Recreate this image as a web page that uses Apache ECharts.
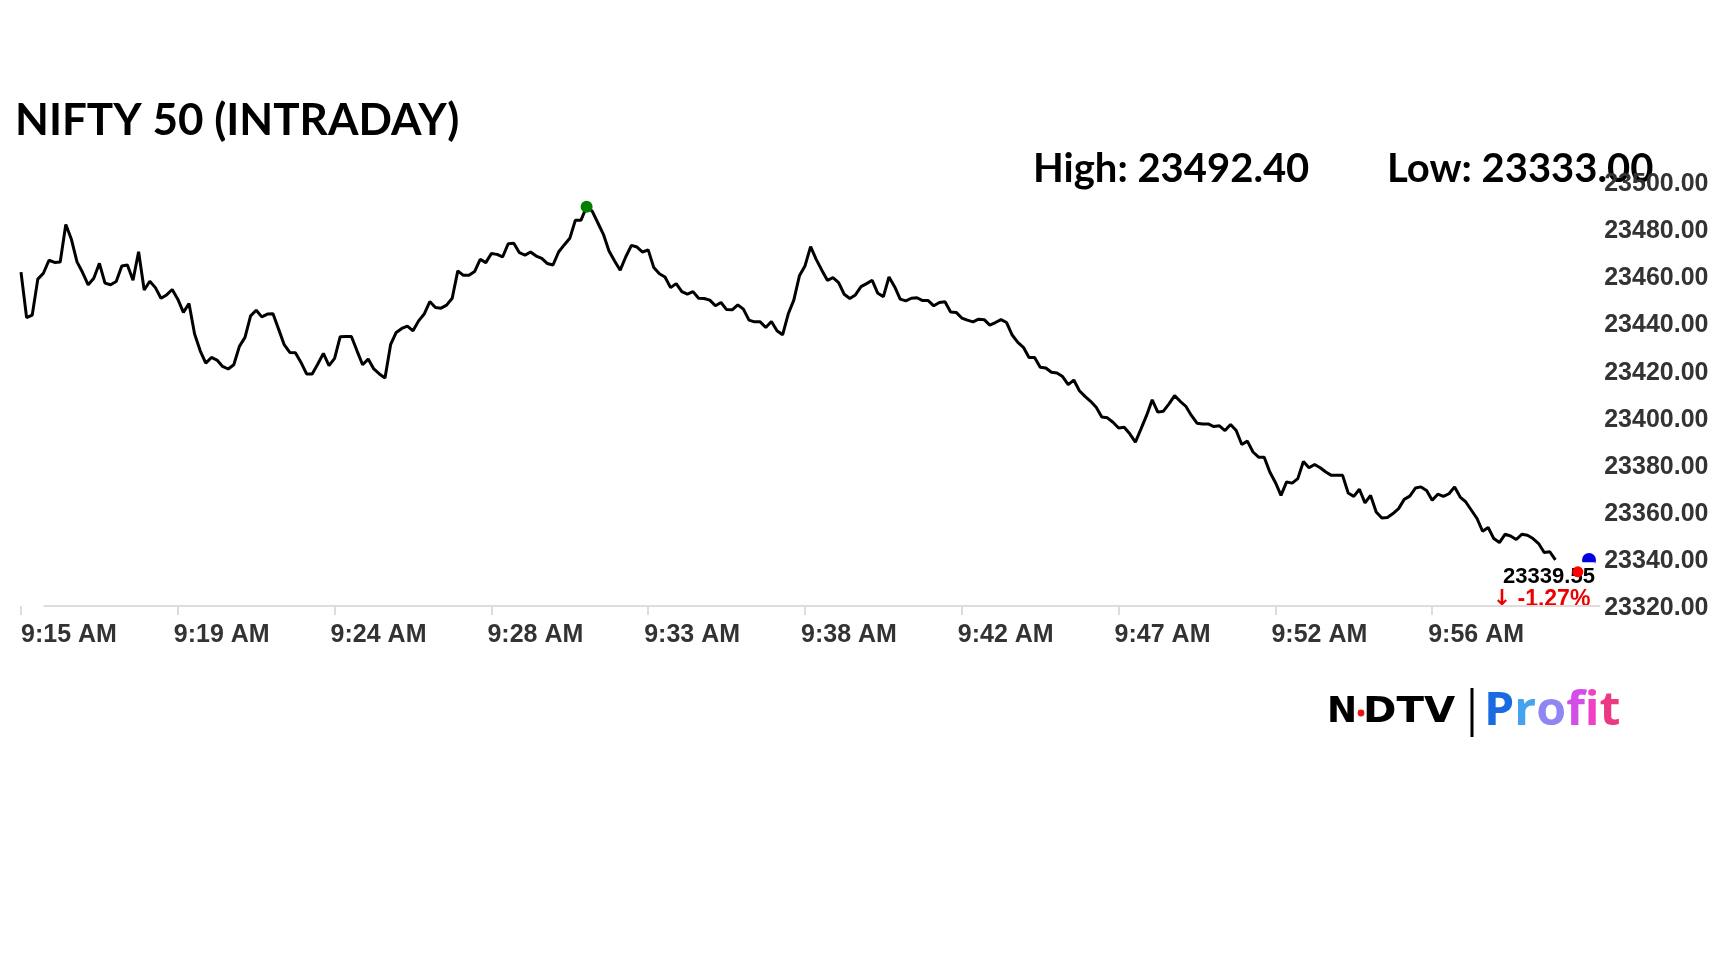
<!DOCTYPE html>
<html>
<head>
<meta charset="utf-8">
<title>NIFTY 50 (INTRADAY)</title>
<script src="https://cdn.jsdelivr.net/npm/echarts@6.0.0/dist/echarts.min.js"></script>
<style>
  html, body { margin: 0; padding: 0; background: #fff; }
  #main { width: 1728px; height: 972px; }
</style>
</head>
<body>
<div id="main"></div>
<script>
// tick labels, one every 28 points
const tickLabels = ['9:15 AM', '9:19 AM', '9:24 AM', '9:28 AM', '9:33 AM', '9:38 AM', '9:42 AM', '9:47 AM', '9:52 AM', '9:56 AM'];
const perTick = 28;
// slots on the x axis (axis runs a little past the last price)
const slots = Array.from({ length: 283 }, (_, i) => i);

// price values
const prices = [
  23461.6, 23442.3, 23443.3, 23458.6, 23461.1, 23466.6, 23465.7, 23465.9, 23481.8, 23475.5,
  23465.9, 23461.4, 23456.2, 23459.0, 23465.3, 23456.9, 23456.2, 23457.6, 23464.2, 23464.6,
  23458.1, 23470.2, 23454.0, 23457.7, 23455.0, 23450.5, 23451.9, 23454.2, 23450.1, 23444.5,
  23448.3, 23435.3, 23428.2, 23423.0, 23425.4, 23424.3, 23421.6, 23420.5, 23422.3, 23430.1,
  23433.9, 23443.0, 23445.4, 23442.6, 23443.8, 23443.9, 23437.4, 23430.8, 23427.5, 23427.4,
  23423.3, 23418.4, 23418.4, 23422.6, 23427.1, 23421.9, 23425.0, 23434.2, 23434.3, 23434.3,
  23428.2, 23422.3, 23424.7, 23420.5, 23418.4, 23416.7, 23430.8, 23436.0, 23437.7, 23438.7,
  23436.7, 23440.9, 23443.8, 23449.1, 23446.6, 23446.3, 23447.6, 23450.5, 23462.1, 23460.2,
  23460.2, 23461.8, 23467.0, 23465.6, 23469.5, 23469.1, 23468.0, 23473.6, 23473.8, 23469.8,
  23468.8, 23470.1, 23468.4, 23467.4, 23465.2, 23464.6, 23470.1, 23473.1, 23475.9, 23483.6,
  23483.6, 23489.3, 23487.4, 23482.5, 23477.6, 23470.5, 23466.3, 23462.4, 23468.1, 23472.9,
  23472.2, 23470.1, 23471.0, 23463.5, 23460.9, 23459.5, 23455.0, 23456.7, 23453.3, 23452.2,
  23453.3, 23450.5, 23450.4, 23449.7, 23447.3, 23448.7, 23445.7, 23445.6, 23447.7, 23445.9,
  23441.2, 23440.5, 23440.5, 23438.1, 23440.6, 23436.7, 23435.0, 23443.8, 23449.7, 23460.0,
  23464.2, 23472.4, 23467.0, 23462.4, 23458.1, 23459.2, 23457.1, 23452.2, 23450.4, 23451.9,
  23455.4, 23456.7, 23458.1, 23452.6, 23451.2, 23459.5, 23455.4, 23450.1, 23449.4, 23450.5,
  23450.7, 23449.5, 23449.5, 23447.3, 23448.7, 23449.0, 23444.7, 23444.5, 23442.1, 23441.2,
  23440.5, 23441.6, 23441.4, 23439.1, 23440.2, 23441.4, 23440.2, 23434.9, 23431.8, 23429.7,
  23425.4, 23425.4, 23421.2, 23420.9, 23419.1, 23418.8, 23417.3, 23413.9, 23415.8, 23411.3,
  23408.9, 23406.8, 23404.3, 23400.1, 23399.8, 23397.9, 23395.5, 23395.8, 23393.0, 23389.5,
  23395.1, 23400.8, 23407.4, 23402.2, 23402.6, 23405.7, 23409.2, 23406.8, 23404.7, 23400.8,
  23397.5, 23397.2, 23397.2, 23396.1, 23396.4, 23394.4, 23397.0, 23394.4, 23388.5, 23389.9,
  23385.3, 23383.1, 23383.1, 23376.8, 23372.4, 23366.9, 23372.6, 23372.1, 23374.0, 23381.3,
  23378.6, 23380.0, 23378.6, 23376.8, 23375.4, 23375.4, 23375.4, 23367.9, 23366.5, 23369.5,
  23363.7, 23366.9, 23359.9, 23357.3, 23357.5, 23359.2, 23361.3, 23365.2, 23366.6, 23370.0,
  23370.5, 23369.0, 23364.8, 23367.4, 23366.5, 23367.6, 23370.5, 23366.2, 23364.1, 23360.6,
  23357.1, 23351.7, 23353.3, 23348.6, 23346.9, 23350.4, 23349.7, 23348.2, 23350.4, 23350.0,
  23348.6, 23346.5, 23342.7, 23343.0, 23339.55
];

const highText = 'High: 23492.40';
const lowText = 'Low: 23333.00';
const changeText = '-1.27%';
// markers: low point and last price sit past the end of the line
const lowPoint = [278, 23334.5];
const lastPoint = [280, prices[prices.length - 1]];

let highIdx = 0;
prices.forEach((v, i) => { if (v > prices[highIdx]) highIdx = i; });

const axisFont = 'Liberation Sans, Arial, sans-serif';
const showTick = (i) => i % perTick === 0 && i / perTick < tickLabels.length;
// labels sit a few px left of their tick, so hang them on the slot before it
const showLabel = (i) => i === 0 || ((i + 1) % perTick === 0 && (i + 1) / perTick < tickLabels.length);
const labelStyle = { fontFamily: axisFont, fontWeight: 'bold', fontSize: 25, color: '#333' };

const chart = echarts.init(document.getElementById('main'));

chart.setOption({
  backgroundColor: '#fff',
  animation: false,
  grid: {
    left: 21,
    right: 127.8,
    top: 181.5,
    bottom: 366,
    containLabel: false,
    outerBoundsMode: 'none'
  },
  xAxis: {
    type: 'category',
    boundaryGap: false,
    data: slots,
    axisLine: { show: false },
    axisTick: {
      show: true,
      interval: showTick,
      length: 9,
      lineStyle: { color: '#dddddd', width: 2 }
    },
    axisLabel: {
      interval: showLabel,
      formatter: (val, idx) => idx === 0
        ? '{a|' + tickLabels[0] + '}'
        : '{b|' + tickLabels[(idx + 1) / perTick] + '}',
      align: 'left',
      margin: 17,
      rich: {
        a: labelStyle,
        b: Object.assign({ padding: [0, 0, 0, 1.6] }, labelStyle)
      }
    },
    splitLine: { show: false }
  },
  yAxis: {
    type: 'value',
    position: 'right',
    min: 23320,
    max: 23500,
    interval: 20,
    axisLine: { show: false },
    axisTick: { show: false },
    splitLine: { show: false },
    axisLabel: Object.assign({
      margin: 4,
      verticalAlign: 'top',
      lineHeight: 5,
      formatter: (v) => v.toFixed(2)
    }, labelStyle)
  },
  series: [
    {
      type: 'line',
      data: prices,
      showSymbol: false,
      z: 1,
      lineStyle: { color: '#000', width: 3 },
      markLine: {
        silent: true,
        symbol: 'none',
        label: { show: false },
        lineStyle: { color: '#dddddd', width: 2, type: 'solid' },
        data: [[{ coord: [4, 23320] }, { coord: [282, 23320] }]]
      }
    },
    {
      type: 'scatter',
      z: 3,
      symbolSize: 12,
      itemStyle: { color: '#008000', opacity: 1 },
      data: [[highIdx, prices[highIdx]]]
    },
    {
      type: 'scatter',
      z: 2,
      clip: false,
      symbolSize: 14,
      itemStyle: { color: '#0000e0', opacity: 1 },
      data: [lastPoint]
    },
    {
      type: 'scatter',
      z: 4,
      clip: false,
      symbolSize: 11,
      itemStyle: { color: '#ff0000', opacity: 1 },
      data: [lowPoint]
    }
  ]
});

// last price + change, hung under the blue point
const lastPx = chart.convertToPixel({ gridIndex: 0 }, lastPoint);
const tagFont = 'bold 22px Liberation Sans, Arial, sans-serif';

chart.setOption({
  graphic: [
    {
      type: 'text', left: 15, top: 99,
      style: { text: 'NIFTY 50 (INTRADAY)', font: 'bold 44px Lato', fill: '#000' }
    },
    {
      type: 'text', left: 1033, top: 149.5,
      style: { text: highText, font: 'bold 40px Lato', fill: '#000' }
    },
    {
      type: 'text', left: 1387, top: 149.5,
      style: { text: lowText, font: 'bold 40px Lato', fill: '#000' }
    },
    {
      type: 'text', x: lastPx[0] - 44, y: lastPx[1] + 2.3, z: 3,
      style: {
        text: '{a|' + lastPoint[1].toFixed(2) + '}\n{c|\u2193}{b| ' + changeText + '}',
        align: 'center',
        verticalAlign: 'top',
        font: tagFont,
        rich: {
          a: { font: tagFont, fill: '#000', lineHeight: 26, backgroundColor: '#fff', padding: [4, 0, 0, 8] },
          c: { font: 'bold 22px DejaVu Sans', fill: '#ee0000', lineHeight: 22, backgroundColor: '#fff', padding: [0, 0, 0, 8] },
          b: { font: 'bold 23px Liberation Sans, Arial, sans-serif', fill: '#ee0000', lineHeight: 22, backgroundColor: '#fff', padding: [0, 15, 0, 0] }
        }
      }
    },
    // NDTV | Profit logo
    {
      type: 'text', x: 1327, y: 712.5,
      style: { text: 'N', font: 'bold 36px DejaVu Sans', fill: '#000', verticalAlign: 'middle' }
    },
    {
      type: 'circle', shape: { cx: 1361, cy: 713, r: 3.4 }, style: { fill: '#ee1111' }
    },
    {
      type: 'text', x: 1363, y: 712.5, scaleX: 1.12,
      style: { text: 'DTV', font: 'bold 36px DejaVu Sans', fill: '#000', verticalAlign: 'middle' }
    },
    {
      type: 'rect', shape: { x: 1470.5, y: 688, width: 3, height: 49 }, style: { fill: '#000' }
    },
    {
      type: 'text', x: 1484, y: 712, scaleX: 1.05,
      style: {
        text: '{p|P}{r|r}{o|o}{f|f}{i|i}{t|t}',
        font: 'bold 46px Open Sans',
        verticalAlign: 'middle',
        rich: {
          p: { font: 'bold 46px Open Sans', fill: '#1a6ae2' },
          r: { font: 'bold 46px Open Sans', fill: '#45a2f0' },
          o: { font: 'bold 46px Open Sans', fill: '#8f86f2' },
          f: { font: 'bold 46px Open Sans', fill: '#d34ee6' },
          i: { font: 'bold 46px Open Sans', fill: '#ef40c6' },
          t: { font: 'bold 46px Open Sans', fill: '#ec3a82' }
        }
      }
    }
  ]
});
</script>
</body>
</html>
